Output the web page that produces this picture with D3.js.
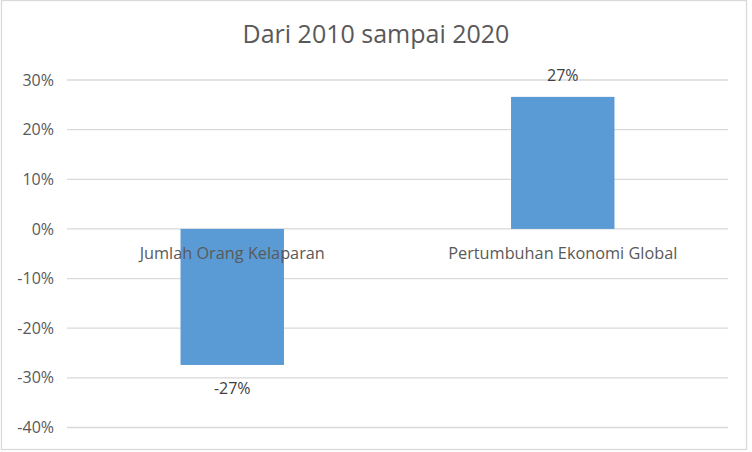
<!DOCTYPE html>
<html>
<head>
<meta charset="utf-8">
<script src="https://cdn.jsdelivr.net/npm/d3@7"></script>
<style>
    body { margin: 0; background: #ffffff; }
    text { font-family: "Open Sans", "Lato", sans-serif; }
</style>
</head>
<body>
<svg id="drawing_region"></svg>
<script>
// chart data
const title = "Dari 2010 sampai 2020";
const categories = ["Jumlah Orang Kelaparan", "Pertumbuhan Ekonomi Global"];
const values = [-0.274, 0.266];
const value_labels = ["-27%", "27%"];
const y_ticks = [0.3, 0.2, 0.1, 0, -0.1, -0.2, -0.3, -0.4];

var config = {
    parent: '#drawing_region',
    width: 752,
    height: 452,
    margin: {top: 80, right: 24, bottom: 24.5, left: 67}
};

const svg = d3.select(config.parent)
    .attr('width', config.width)
    .attr('height', config.height);

// chart border
svg.append('rect')
    .attr('x', 1.5).attr('y', 0.5)
    .attr('width', 745).attr('height', 449)
    .attr('fill', 'white')
    .attr('stroke', '#d9d9d9')
    .attr('stroke-width', 1.3);

const inner_width = config.width - config.margin.left - config.margin.right;
const inner_height = config.height - config.margin.top - config.margin.bottom;

const chart = svg.append('g')
    .attr('transform', `translate(${config.margin.left}, ${config.margin.top})`);

const xscale = d3.scaleBand()
    .domain(categories)
    .range([0, inner_width])
    .paddingInner(0.687)
    .paddingOuter(0.687 / 2);

const yscale = d3.scaleLinear()
    .domain([0.3, -0.4])
    .range([0, inner_height]);

// plain hyphen for negative numbers, like the original
const locale = d3.formatLocale({decimal: ".", thousands: ",", grouping: [3], currency: ["", ""], minus: "-", percent: "%"});

// gridlines
chart.append('g')
    .selectAll('line')
    .data(y_ticks)
    .join('line')
    .attr('x1', 0)
    .attr('x2', inner_width)
    .attr('y1', d => yscale(d))
    .attr('y2', d => yscale(d))
    .attr('stroke', '#d9d9d9')
    .attr('stroke-width', 1.3);

// y axis labels
const yaxis = d3.axisLeft(yscale)
    .tickValues(y_ticks)
    .tickFormat(locale.format('.0%'))
    .tickSize(0)
    .tickPadding(13);

const yaxis_group = chart.append('g').call(yaxis);
yaxis_group.select('.domain').remove();
yaxis_group.selectAll('text')
    .attr('fill', '#595959')
    .attr('font-size', '16px')
    .attr('font-family', '"Open Sans", sans-serif');

// bars
chart.selectAll('rect.bar')
    .data(values)
    .join('rect')
    .attr('class', 'bar')
    .attr('x', (d, i) => xscale(categories[i]))
    .attr('width', xscale.bandwidth())
    .attr('y', d => yscale(Math.max(0, d)))
    .attr('height', d => Math.abs(yscale(d) - yscale(0)))
    .attr('fill', '#5b9bd5');

// category labels (drawn at zero line, over the bars)
chart.selectAll('text.cat')
    .data(categories)
    .join('text')
    .attr('class', 'cat')
    .attr('x', d => xscale(d) + xscale.bandwidth() / 2)
    .attr('y', yscale(0) + 30)
    .attr('text-anchor', 'middle')
    .attr('fill', '#595959')
    .attr('font-size', '16.3px')
    .text(d => d);

// value labels
chart.selectAll('text.val')
    .data(values)
    .join('text')
    .attr('class', 'val')
    .attr('x', (d, i) => xscale(categories[i]) + xscale.bandwidth() / 2)
    .attr('y', d => d >= 0 ? yscale(d) - 16 : yscale(d) + 29)
    .attr('text-anchor', 'middle')
    .attr('fill', '#404040')
    .attr('font-size', '16px')
    .text((d, i) => value_labels[i]);

// title
svg.append('text')
    .attr('x', 376)
    .attr('y', 43)
    .attr('text-anchor', 'middle')
    .attr('fill', '#595959')
    .attr('font-size', '25px')
    .text(title);
</script>
</body>
</html>
